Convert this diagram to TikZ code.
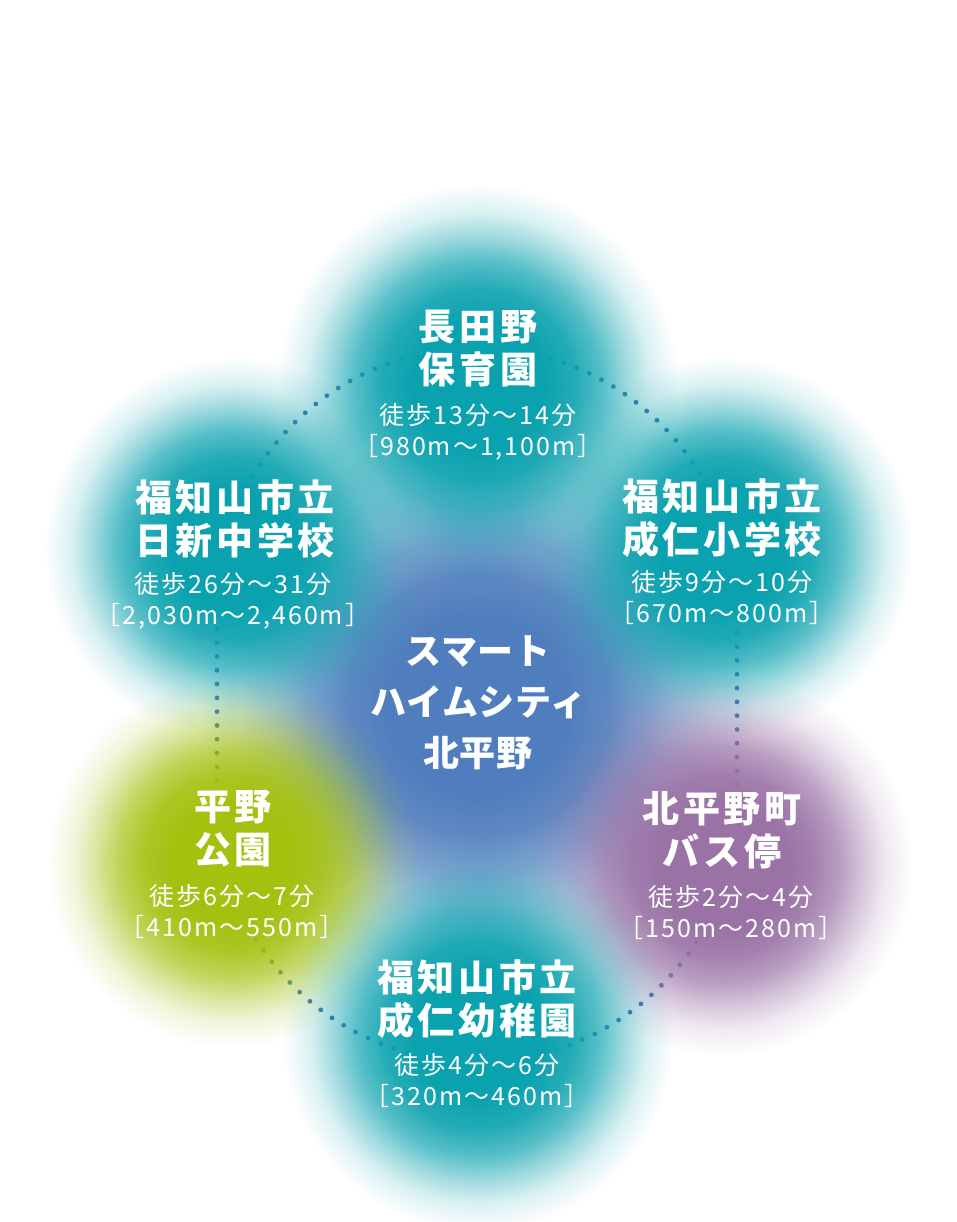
\documentclass[tikz,border=0pt]{standalone}
\usepackage{fontspec}
\newfontfamily\jpbig[LetterSpace=10]{Noto Sans CJK JP}
\newfontfamily\jpmid[LetterSpace=2]{Noto Sans CJK JP}
\newfontfamily\jpsmall[LetterSpace=8]{Noto Sans CJK JP}
\usetikzlibrary{fadings}

\definecolor{tealblob}{HTML}{0AA2AF}
\definecolor{blueblob}{HTML}{4F7DBD}
\definecolor{greenblob}{HTML}{A4C10F}
\definecolor{purpleblob}{HTML}{9A72A6}
\definecolor{dotblue}{HTML}{3A72B6}

% soft edged disc used as fading (edge of the disc at 25bp)
\pgfdeclareradialshading{blobshading}{\pgfpointorigin}{%
  color(0bp)=(white); color(8bp)=(white); color(12bp)=(white!90!black);
  color(15.5bp)=(white!68!black); color(18.5bp)=(white!40!black);
  color(21.5bp)=(white!15!black); color(25bp)=(black); color(50bp)=(black)}
\pgfdeclarefading{blobfade}{\pgfuseshading{blobshading}}

\tikzset{
  blob/.style={fill=#1, path fading=blobfade},
  placename/.style={text=white, align=center, inner sep=0pt,
    font=\jpbig\bfseries\fontsize{37}{43}\selectfont},
  centrename/.style={text=white, align=center, inner sep=0pt,
    font=\jpmid\bfseries\fontsize{36}{51}\selectfont},
  walktime/.style={text=white, align=center, inner sep=0pt,
    font=\jpsmall\fontsize{25}{31}\selectfont},
}

\begin{document}
\begin{tikzpicture}[x=1pt, y=-1pt]
    \useasboundingbox (0,0) rectangle (956,1222);
    \fill[white] (0,0) rectangle (956,1222);

    % Ring of dots
    \draw[dotblue, line width=4.8pt, line cap=round, dash pattern=on 0pt off 13.8pt]
        (217,608) arc[start angle=180, end angle=360, radius=260]
        -- (737,802) arc[start angle=0, end angle=180, radius=260] -- cycle;

    % Blobs
    \fill[blob=blueblob] (478,705) circle (275);
    \foreach \cx/\cy/\r/\c in {478/385/200/tealblob, 235/548/190/tealblob,
        722/548/190/tealblob, 233/862/185/greenblob, 722/865/190/purpleblob,
        478/1035/195/tealblob}
        \fill[blob=\c] (\cx,\cy) circle (\r);

    % Labels
    \node[centrename] (heim) at (478,703) {スマート\\ハイムシティ\\北平野};

    \node[placename] (hoiku) at (478,349) {長田野\\保育園};
    \node[walktime] (hoikuW) at (478,432) {徒歩13分～14分\\［980m～1,100m］};

    \node[placename] (nisshin) at (235,519) {福知山市立\\日新中学校};
    \node[walktime] (nisshinW) at (233,601) {徒歩26分～31分\\［2,030m～2,460m］};

    \node[placename] (seijinS) at (722,518) {福知山市立\\成仁小学校};
    \node[walktime] (seijinSW) at (722,598) {徒歩9分～10分\\［670m～800m］};

    \node[placename] (koen) at (233,829) {平野\\公園};
    \node[walktime] (koenW) at (232,912) {徒歩6分～7分\\［410m～550m］};

    \node[placename] (bus) at (722,830) {北平野町\\バス停};
    \node[walktime] (busW) at (731,913) {徒歩2分～4分\\［150m～280m］};

    \node[placename] (seijinY) at (477,999) {福知山市立\\成仁幼稚園};
    \node[walktime] (seijinYW) at (477,1081) {徒歩4分～6分\\［320m～460m］};
\end{tikzpicture}
\end{document}
